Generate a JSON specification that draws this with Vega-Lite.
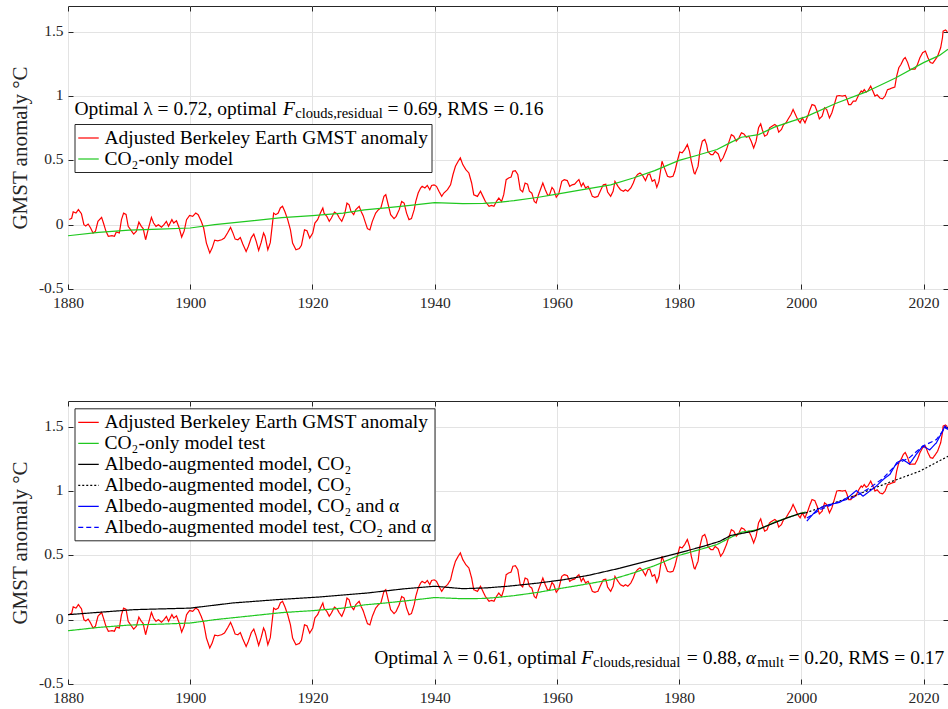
{
  "$schema": "https://vega.github.io/schema/vega-lite/v6.json",
  "background": "white",
  "padding": {"left": 8, "top": 5, "right": 0, "bottom": 0},
  "bounds": "flush",
  "spacing": 112,
  "resolve": {"scale": {"color": "independent", "strokeDash": "independent"}, "legend": {"color": "independent", "strokeDash": "independent"}},
  "config": {
    "view": {"stroke": "#262626", "strokeWidth": 1},
    "axis": {
      "domain": false, "grid": true, "gridColor": "#e3e3e3", "gridWidth": 1, "labelFlush": false,
      "tickColor": "#262626", "tickSize": -5, "tickWidth": 1,
      "labelFont": "Liberation Serif", "labelFontSize": 15.5, "labelColor": "#262626", "labelPadding": 10,
      "titleFont": "Liberation Serif", "titleFontSize": 21, "titleFontWeight": "normal", "titleColor": "#262626", "titlePadding": 8
    },
    "axisX": {"labelPadding": 11.5},
    "axisY": {"labelOffset": -1.5},
    "legend": {
      "orient": "none", "title": null, "symbolType": "stroke", "symbolSize": 420, "symbolStrokeWidth": 1.2,
      "labelFont": "Liberation Serif", "labelFontSize": 19.5, "labelColor": "black", "labelLimit": 600,
      "fillColor": "white", "strokeColor": "#262626", "padding": 3, "rowPadding": 0, "labelOffset": 5, "cornerRadius": 0
    },
    "text": {"font": "Liberation Serif", "color": "black"}
  },
  "datasets": {
    "red": [
      {"year":1880.2,"value":0.04},{"year":1880.6,"value":0.05},{"year":1880.85,"value":0.10},{"year":1881.3,"value":0.09},{"year":1881.7,"value":0.117},{"year":1882.2,"value":0.085},{"year":1882.6,"value":0.0},{"year":1882.9,"value":-0.01},{"year":1883.3,"value":0.005},{"year":1883.7,"value":-0.026},{"year":1884.1,"value":-0.065},{"year":1884.5,"value":-0.05},{"year":1884.9,"value":0.026},{"year":1885.5,"value":0.057},{"year":1885.8,"value":0.013},{"year":1886.2,"value":-0.05},{"year":1886.6,"value":-0.09},{"year":1887.2,"value":-0.085},{"year":1887.6,"value":-0.09},{"year":1887.9,"value":-0.057},{"year":1888.4,"value":-0.065},{"year":1888.75,"value":0.039},{"year":1889.1,"value":0.09},{"year":1889.5,"value":0.08},{"year":1889.85,"value":-0.013},{"year":1890.4,"value":-0.05},{"year":1890.75,"value":-0.073},{"year":1891.2,"value":-0.05},{"year":1891.6,"value":0.02},{"year":1892.0,"value":-0.013},{"year":1892.3,"value":-0.03},{"year":1892.7,"value":-0.117},{"year":1893.1,"value":-0.04},{"year":1893.65,"value":0.057},{"year":1894.0,"value":0.013},{"year":1894.4,"value":-0.013},{"year":1894.8,"value":0.0},{"year":1895.3,"value":-0.02},{"year":1895.7,"value":0.0},{"year":1896.1,"value":0.026},{"year":1896.45,"value":-0.013},{"year":1897.0,"value":0.039},{"year":1897.3,"value":0.013},{"year":1897.75,"value":0.03},{"year":1898.2,"value":-0.026},{"year":1898.6,"value":-0.096},{"year":1899.0,"value":-0.05},{"year":1899.4,"value":0.039},{"year":1899.9,"value":0.072},{"year":1900.4,"value":0.065},{"year":1900.9,"value":0.09},{"year":1901.3,"value":0.078},{"year":1901.8,"value":0.026},{"year":1902.2,"value":-0.026},{"year":1902.65,"value":-0.143},{"year":1903.2,"value":-0.22},{"year":1903.6,"value":-0.18},{"year":1904.0,"value":-0.12},{"year":1904.5,"value":-0.125},{"year":1905.15,"value":-0.117},{"year":1905.6,"value":-0.104},{"year":1906.1,"value":-0.065},{"year":1906.6,"value":-0.021},{"year":1906.95,"value":-0.06},{"year":1907.35,"value":-0.112},{"year":1907.8,"value":-0.117},{"year":1908.2,"value":-0.1},{"year":1908.6,"value":-0.15},{"year":1909.15,"value":-0.208},{"year":1909.5,"value":-0.17},{"year":1910.0,"value":-0.1},{"year":1910.4,"value":-0.073},{"year":1910.8,"value":-0.13},{"year":1911.2,"value":-0.2},{"year":1911.6,"value":-0.14},{"year":1912.0,"value":-0.065},{"year":1912.25,"value":-0.09},{"year":1912.7,"value":-0.195},{"year":1913.1,"value":-0.14},{"year":1913.65,"value":0.09},{"year":1914.0,"value":0.078},{"year":1914.4,"value":0.09},{"year":1914.75,"value":0.13},{"year":1915.1,"value":0.143},{"year":1915.5,"value":0.1},{"year":1915.95,"value":0.039},{"year":1916.4,"value":-0.04},{"year":1916.75,"value":-0.143},{"year":1917.3,"value":-0.195},{"year":1917.85,"value":-0.185},{"year":1918.2,"value":-0.16},{"year":1918.7,"value":-0.04},{"year":1919.1,"value":-0.047},{"year":1919.55,"value":-0.104},{"year":1920.05,"value":-0.065},{"year":1920.4,"value":0.013},{"year":1920.85,"value":0.039},{"year":1921.3,"value":0.09},{"year":1921.7,"value":0.13},{"year":1921.9,"value":0.09},{"year":1922.35,"value":0.065},{"year":1922.75,"value":0.026},{"year":1923.1,"value":0.052},{"year":1923.6,"value":0.098},{"year":1924.05,"value":0.083},{"year":1924.4,"value":0.052},{"year":1924.8,"value":0.026},{"year":1925.25,"value":0.078},{"year":1925.65,"value":0.168},{"year":1926.0,"value":0.155},{"year":1926.3,"value":0.104},{"year":1926.75,"value":0.078},{"year":1927.1,"value":0.117},{"year":1927.65,"value":0.143},{"year":1927.95,"value":0.104},{"year":1928.3,"value":0.07},{"year":1928.6,"value":0.026},{"year":1929.0,"value":-0.031},{"year":1929.4,"value":-0.04},{"year":1929.8,"value":0.026},{"year":1930.35,"value":0.09},{"year":1930.8,"value":0.117},{"year":1931.2,"value":0.13},{"year":1931.7,"value":0.22},{"year":1932.0,"value":0.233},{"year":1932.4,"value":0.155},{"year":1932.8,"value":0.078},{"year":1933.35,"value":0.047},{"year":1933.7,"value":0.065},{"year":1934.2,"value":0.117},{"year":1934.6,"value":0.18},{"year":1935.0,"value":0.168},{"year":1935.4,"value":0.09},{"year":1935.8,"value":0.039},{"year":1936.2,"value":0.047},{"year":1936.65,"value":0.117},{"year":1936.9,"value":0.18},{"year":1937.3,"value":0.246},{"year":1937.7,"value":0.285},{"year":1937.95,"value":0.298},{"year":1938.4,"value":0.285},{"year":1938.8,"value":0.305},{"year":1939.2,"value":0.272},{"year":1939.5,"value":0.305},{"year":1939.9,"value":0.31},{"year":1940.3,"value":0.298},{"year":1940.7,"value":0.26},{"year":1941.15,"value":0.22},{"year":1941.5,"value":0.246},{"year":1942.1,"value":0.272},{"year":1942.6,"value":0.31},{"year":1943.0,"value":0.39},{"year":1943.4,"value":0.454},{"year":1943.85,"value":0.493},{"year":1944.2,"value":0.519},{"year":1944.6,"value":0.467},{"year":1945.1,"value":0.428},{"year":1945.6,"value":0.402},{"year":1946.05,"value":0.324},{"year":1946.4,"value":0.233},{"year":1947.0,"value":0.22},{"year":1947.5,"value":0.26},{"year":1947.9,"value":0.22},{"year":1948.3,"value":0.18},{"year":1948.9,"value":0.143},{"year":1949.3,"value":0.15},{"year":1949.7,"value":0.143},{"year":1950.1,"value":0.18},{"year":1950.5,"value":0.207},{"year":1950.95,"value":0.18},{"year":1951.3,"value":0.233},{"year":1951.7,"value":0.35},{"year":1952.1,"value":0.363},{"year":1952.5,"value":0.37},{"year":1952.8,"value":0.415},{"year":1953.2,"value":0.42},{"year":1953.6,"value":0.39},{"year":1954.0,"value":0.272},{"year":1954.4,"value":0.255},{"year":1954.8,"value":0.324},{"year":1955.2,"value":0.315},{"year":1955.5,"value":0.26},{"year":1955.9,"value":0.245},{"year":1956.3,"value":0.18},{"year":1956.6,"value":0.168},{"year":1957.0,"value":0.233},{"year":1957.4,"value":0.285},{"year":1957.7,"value":0.324},{"year":1958.1,"value":0.272},{"year":1958.5,"value":0.228},{"year":1958.8,"value":0.233},{"year":1959.2,"value":0.29},{"year":1959.5,"value":0.272},{"year":1959.9,"value":0.213},{"year":1960.3,"value":0.24},{"year":1960.8,"value":0.337},{"year":1961.2,"value":0.35},{"year":1961.7,"value":0.343},{"year":1962.1,"value":0.298},{"year":1962.5,"value":0.31},{"year":1962.9,"value":0.315},{"year":1963.3,"value":0.337},{"year":1963.6,"value":0.35},{"year":1964.0,"value":0.298},{"year":1964.3,"value":0.324},{"year":1964.7,"value":0.285},{"year":1965.1,"value":0.298},{"year":1965.4,"value":0.272},{"year":1965.8,"value":0.22},{"year":1966.2,"value":0.213},{"year":1966.7,"value":0.22},{"year":1967.2,"value":0.272},{"year":1967.6,"value":0.31},{"year":1968.0,"value":0.315},{"year":1968.3,"value":0.254},{"year":1968.8,"value":0.22},{"year":1969.2,"value":0.26},{"year":1969.5,"value":0.337},{"year":1970.0,"value":0.298},{"year":1970.4,"value":0.272},{"year":1970.9,"value":0.26},{"year":1971.2,"value":0.272},{"year":1971.6,"value":0.26},{"year":1972.1,"value":0.285},{"year":1972.5,"value":0.324},{"year":1972.8,"value":0.363},{"year":1973.2,"value":0.39},{"year":1973.6,"value":0.402},{"year":1974.0,"value":0.385},{"year":1974.5,"value":0.343},{"year":1974.9,"value":0.39},{"year":1975.2,"value":0.394},{"year":1975.6,"value":0.337},{"year":1976.0,"value":0.35},{"year":1976.35,"value":0.29},{"year":1976.7,"value":0.337},{"year":1977.2,"value":0.493},{"year":1977.6,"value":0.44},{"year":1978.1,"value":0.376},{"year":1978.5,"value":0.37},{"year":1979.0,"value":0.376},{"year":1979.3,"value":0.415},{"year":1979.7,"value":0.493},{"year":1980.1,"value":0.565},{"year":1980.5,"value":0.558},{"year":1980.9,"value":0.584},{"year":1981.35,"value":0.623},{"year":1981.7,"value":0.57},{"year":1982.0,"value":0.493},{"year":1982.45,"value":0.402},{"year":1982.6,"value":0.395},{"year":1983.1,"value":0.455},{"year":1983.4,"value":0.57},{"year":1983.8,"value":0.649},{"year":1984.2,"value":0.662},{"year":1984.5,"value":0.623},{"year":1984.7,"value":0.57},{"year":1985.2,"value":0.545},{"year":1985.55,"value":0.545},{"year":1985.9,"value":0.57},{"year":1986.4,"value":0.55},{"year":1986.8,"value":0.493},{"year":1987.2,"value":0.52},{"year":1987.75,"value":0.584},{"year":1988.1,"value":0.636},{"year":1988.55,"value":0.70},{"year":1988.95,"value":0.688},{"year":1989.35,"value":0.649},{"year":1989.8,"value":0.675},{"year":1990.2,"value":0.714},{"year":1990.6,"value":0.705},{"year":1991.0,"value":0.68},{"year":1991.4,"value":0.688},{"year":1991.8,"value":0.649},{"year":1992.2,"value":0.597},{"year":1992.6,"value":0.649},{"year":1993.0,"value":0.753},{"year":1993.35,"value":0.784},{"year":1993.6,"value":0.74},{"year":1994.0,"value":0.688},{"year":1994.4,"value":0.70},{"year":1994.8,"value":0.753},{"year":1995.2,"value":0.766},{"year":1995.65,"value":0.779},{"year":1996.0,"value":0.766},{"year":1996.3,"value":0.72},{"year":1996.75,"value":0.74},{"year":1997.1,"value":0.779},{"year":1997.5,"value":0.792},{"year":1997.8,"value":0.818},{"year":1998.3,"value":0.857},{"year":1998.65,"value":0.896},{"year":1998.9,"value":0.87},{"year":1999.4,"value":0.818},{"year":1999.8,"value":0.792},{"year":2000.15,"value":0.83},{"year":2000.6,"value":0.792},{"year":2001.1,"value":0.85},{"year":2001.3,"value":0.88},{"year":2001.75,"value":0.934},{"year":2002.2,"value":0.926},{"year":2002.6,"value":0.88},{"year":2002.95,"value":0.822},{"year":2003.4,"value":0.843},{"year":2003.8,"value":0.908},{"year":2004.15,"value":0.895},{"year":2004.6,"value":0.83},{"year":2005.0,"value":0.87},{"year":2005.4,"value":0.934},{"year":2005.8,"value":1.0},{"year":2006.2,"value":1.004},{"year":2006.7,"value":1.0},{"year":2007.2,"value":1.004},{"year":2007.4,"value":0.985},{"year":2007.75,"value":0.934},{"year":2008.1,"value":0.934},{"year":2008.5,"value":0.96},{"year":2008.9,"value":0.96},{"year":2009.4,"value":1.01},{"year":2009.8,"value":1.04},{"year":2010.0,"value":1.03},{"year":2010.3,"value":1.05},{"year":2010.6,"value":1.03},{"year":2010.9,"value":1.04},{"year":2011.35,"value":1.077},{"year":2011.7,"value":1.04},{"year":2012.05,"value":1.0},{"year":2012.4,"value":1.01},{"year":2012.85,"value":0.985},{"year":2013.3,"value":0.978},{"year":2013.7,"value":1.0},{"year":2014.1,"value":1.05},{"year":2014.5,"value":1.056},{"year":2014.9,"value":1.064},{"year":2015.3,"value":1.07},{"year":2015.6,"value":1.155},{"year":2015.95,"value":1.22},{"year":2016.3,"value":1.245},{"year":2016.7,"value":1.285},{"year":2017.0,"value":1.3},{"year":2017.4,"value":1.26},{"year":2017.75,"value":1.207},{"year":2018.2,"value":1.21},{"year":2018.6,"value":1.21},{"year":2019.0,"value":1.245},{"year":2019.4,"value":1.297},{"year":2019.85,"value":1.337},{"year":2020.3,"value":1.35},{"year":2020.7,"value":1.3},{"year":2021.1,"value":1.26},{"year":2021.5,"value":1.255},{"year":2021.95,"value":1.285},{"year":2022.3,"value":1.31},{"year":2022.8,"value":1.375},{"year":2023.1,"value":1.455},{"year":2023.2,"value":1.505},{"year":2023.6,"value":1.513},{"year":2023.9,"value":1.5}
    ],
    "green": [
      {"year":1880,"value":-0.086},{"year":1885,"value":-0.06},{"year":1890,"value":-0.042},{"year":1895,"value":-0.035},{"year":1900,"value":-0.026},{"year":1904,"value":0.0},{"year":1910,"value":0.03},{"year":1915,"value":0.055},{"year":1920,"value":0.07},{"year":1925,"value":0.09},{"year":1928.5,"value":0.115},{"year":1932,"value":0.13},{"year":1936,"value":0.15},{"year":1940,"value":0.172},{"year":1944.6,"value":0.163},{"year":1948,"value":0.165},{"year":1950,"value":0.172},{"year":1953,"value":0.187},{"year":1957,"value":0.213},{"year":1960,"value":0.238},{"year":1964,"value":0.27},{"year":1968.8,"value":0.31},{"year":1972.5,"value":0.363},{"year":1976,"value":0.42},{"year":1980,"value":0.5},{"year":1983,"value":0.54},{"year":1986.2,"value":0.584},{"year":1988.3,"value":0.636},{"year":1990.2,"value":0.68},{"year":1993,"value":0.7},{"year":1995.6,"value":0.758},{"year":1998.5,"value":0.805},{"year":2000.7,"value":0.838},{"year":2005.6,"value":0.942},{"year":2010.5,"value":1.03},{"year":2015.4,"value":1.14},{"year":2020,"value":1.26},{"year":2022.6,"value":1.316},{"year":2024,"value":1.363}
    ],
    "black": [
      {"year":1880,"value":0.039},{"year":1890.8,"value":0.078},{"year":1900,"value":0.09},{"year":1907,"value":0.13},{"year":1914,"value":0.155},{"year":1921,"value":0.176},{"year":1928.9,"value":0.207},{"year":1935,"value":0.24},{"year":1940,"value":0.26},{"year":1944.6,"value":0.241},{"year":1948.4,"value":0.247},{"year":1952,"value":0.26},{"year":1957,"value":0.285},{"year":1961,"value":0.31},{"year":1965.2,"value":0.345},{"year":1970.3,"value":0.40},{"year":1972.5,"value":0.428},{"year":1975.7,"value":0.467},{"year":1980,"value":0.519},{"year":1984,"value":0.571},{"year":1986.7,"value":0.61},{"year":1988.4,"value":0.654},{"year":1992.2,"value":0.688},{"year":1994.9,"value":0.74},{"year":1997.7,"value":0.792},{"year":1999.8,"value":0.826},{"year":2000.7,"value":0.83}
    ],
    "blackExt": [
      {"year":2000.7,"value":0.83},{"year":2008.5,"value":0.96},{"year":2013.9,"value":1.059},{"year":2019.4,"value":1.155},{"year":2024,"value":1.27}
    ],
    "blue": [
      {"year":2000.9,"value":0.766},{"year":2001.7,"value":0.81},{"year":2002.5,"value":0.85},{"year":2003.6,"value":0.882},{"year":2004.7,"value":0.895},{"year":2006.3,"value":0.913},{"year":2007.9,"value":0.96},{"year":2009.0,"value":1.004},{"year":2010.1,"value":0.96},{"year":2011.2,"value":1.0},{"year":2012.3,"value":1.04},{"year":2013.4,"value":1.09},{"year":2014.5,"value":1.13},{"year":2015.6,"value":1.22},{"year":2016.6,"value":1.245},{"year":2017.7,"value":1.21},{"year":2018.8,"value":1.285},{"year":2019.9,"value":1.35},{"year":2021.0,"value":1.32},{"year":2022.1,"value":1.375},{"year":2023.0,"value":1.455},{"year":2023.5,"value":1.505},{"year":2024,"value":1.48}
    ],
    "blueTest": [
      {"year":2000.9,"value":0.79},{"year":2003.1,"value":0.856},{"year":2005.8,"value":0.91},{"year":2008.5,"value":0.95},{"year":2011.2,"value":1.025},{"year":2013.4,"value":1.1},{"year":2015.6,"value":1.21},{"year":2017.7,"value":1.26},{"year":2019.9,"value":1.35},{"year":2022.1,"value":1.4},{"year":2023.5,"value":1.49},{"year":2024,"value":1.48}
    ]
  },
  "vconcat": [
    {
      "width": 880, "height": 283,
      "resolve": {"axis": {"x": "independent", "y": "independent"}},
      "layer": [
        {
          "data": {"name": "red"},
          "mark": {"type": "line", "strokeWidth": 1.2, "clip": true},
          "encoding": {
            "x": {"field": "year", "type": "quantitative", "scale": {"domain": [1880, 2024], "nice": false, "zero": false}, "axis": {"orient": "bottom", "values": [1880,1900,1920,1940,1960,1980,2000,2020], "format": "d", "title": null}},
            "y": {"field": "value", "type": "quantitative", "scale": {"domain": [-0.5, 1.7], "nice": false, "zero": false}, "axis": {"orient": "left", "values": [-0.5,0,0.5,1,1.5], "labelExpr": "datum.value < 0 ? '-' + (-datum.value) : '' + datum.value", "title": "GMST anomaly °C"}},
            "color": {"datum": "Adjusted Berkeley Earth GMST anomaly", "scale": {"domain": ["Adjusted Berkeley Earth GMST anomaly", "CO₂-only model"], "range": ["#ff0000", "#20c820"]}, "legend": {"legendX": 6.5, "legendY": 118}}
          }
        },
        {
          "data": {"name": "green"},
          "mark": {"type": "line", "strokeWidth": 1.2, "clip": true},
          "encoding": {
            "x": {"field": "year", "type": "quantitative", "axis": {"orient": "top", "labels": false, "grid": false, "values": [1880,1900,1920,1940,1960,1980,2000,2020], "title": null}},
            "y": {"field": "value", "type": "quantitative", "axis": {"orient": "right", "labels": false, "grid": false, "values": [-0.5,0,0.5,1,1.5], "title": null}},
            "color": {"datum": "CO₂-only model"}
          }
        },
        {
          "data": {"values": [{"year": 1881.06, "value": 0.851, "text": "Optimal λ = 0.72, optimal"}, {"year": 1932.3, "value": 0.851, "text": "= 0.69, RMS = 0.16"}]},
          "mark": {"type": "text", "align": "left", "baseline": "alphabetic", "fontSize": 19.5},
          "encoding": {"x": {"field": "year", "type": "quantitative", "axis": null}, "y": {"field": "value", "type": "quantitative", "axis": null}, "text": {"field": "text"}}
        },
        {
          "data": {"values": [{"year": 1915.2, "value": 0.851, "text": "F"}]},
          "mark": {"type": "text", "align": "left", "baseline": "alphabetic", "fontSize": 19.5, "fontStyle": "italic"},
          "encoding": {"x": {"field": "year", "type": "quantitative", "axis": null}, "y": {"field": "value", "type": "quantitative", "axis": null}, "text": {"field": "text"}}
        },
        {
          "data": {"values": [{"year": 1917.2, "value": 0.828, "text": "clouds,residual"}]},
          "mark": {"type": "text", "align": "left", "baseline": "alphabetic", "fontSize": 14.5},
          "encoding": {"x": {"field": "year", "type": "quantitative", "axis": null}, "y": {"field": "value", "type": "quantitative", "axis": null}, "text": {"field": "text"}}
        }
      ]
    },
    {
      "width": 880, "height": 283,
      "resolve": {"axis": {"x": "independent", "y": "independent"}},
      "layer": [
        {
          "data": {"name": "red"},
          "mark": {"type": "line", "strokeWidth": 1.2, "clip": true},
          "encoding": {
            "x": {"field": "year", "type": "quantitative", "scale": {"domain": [1880, 2024], "nice": false, "zero": false}, "axis": {"orient": "bottom", "values": [1880,1900,1920,1940,1960,1980,2000,2020], "format": "d", "title": null}},
            "y": {"field": "value", "type": "quantitative", "scale": {"domain": [-0.5, 1.7], "nice": false, "zero": false}, "axis": {"orient": "left", "values": [-0.5,0,0.5,1,1.5], "labelExpr": "datum.value < 0 ? '-' + (-datum.value) : '' + datum.value", "title": "GMST anomaly °C"}},
            "color": {"datum": "Adjusted Berkeley Earth GMST anomaly", "scale": {"domain": ["Adjusted Berkeley Earth GMST anomaly", "CO₂-only model test", "Albedo-augmented model, CO₂", "Albedo-augmented model, CO₂ (extrapolated)", "Albedo-augmented model, CO₂ and α", "Albedo-augmented model test, CO₂ and α"], "range": ["#ff0000", "#20c820", "#000000", "#000000", "#0000ff", "#0000ff"]}, "legend": {"legendX": 6.5, "legendY": 7.3, "labelExpr": "replace(datum.label, ' (extrapolated)', '')"}},
            "strokeDash": {"datum": "Adjusted Berkeley Earth GMST anomaly", "scale": {"domain": ["Adjusted Berkeley Earth GMST anomaly", "CO₂-only model test", "Albedo-augmented model, CO₂", "Albedo-augmented model, CO₂ (extrapolated)", "Albedo-augmented model, CO₂ and α", "Albedo-augmented model test, CO₂ and α"], "range": [[1,0],[1,0],[1,0],[2,2],[1,0],[5,3]]}, "legend": {"legendX": 6.5, "legendY": 7.3, "labelExpr": "replace(datum.label, ' (extrapolated)', '')"}}
          }
        },
        {
          "data": {"name": "green"},
          "transform": [{"filter": "datum.year <= 2000.7"}],
          "mark": {"type": "line", "strokeWidth": 1.2, "clip": true},
          "encoding": {
            "x": {"field": "year", "type": "quantitative", "axis": {"orient": "top", "labels": false, "grid": false, "values": [1880,1900,1920,1940,1960,1980,2000,2020], "title": null}},
            "y": {"field": "value", "type": "quantitative", "axis": {"orient": "right", "labels": false, "grid": false, "values": [-0.5,0,0.5,1,1.5], "title": null}},
            "color": {"datum": "CO₂-only model test"},
            "strokeDash": {"datum": "CO₂-only model test"}
          }
        },
        {
          "data": {"name": "black"},
          "mark": {"type": "line", "strokeWidth": 1.2, "clip": true},
          "encoding": {"x": {"field": "year", "type": "quantitative", "axis": null}, "y": {"field": "value", "type": "quantitative", "axis": null}, "color": {"datum": "Albedo-augmented model, CO₂"}, "strokeDash": {"datum": "Albedo-augmented model, CO₂"}}
        },
        {
          "data": {"name": "blackExt"},
          "mark": {"type": "line", "strokeWidth": 1.2, "clip": true},
          "encoding": {"x": {"field": "year", "type": "quantitative", "axis": null}, "y": {"field": "value", "type": "quantitative", "axis": null}, "color": {"datum": "Albedo-augmented model, CO₂ (extrapolated)"}, "strokeDash": {"datum": "Albedo-augmented model, CO₂ (extrapolated)"}}
        },
        {
          "data": {"name": "blue"},
          "mark": {"type": "line", "strokeWidth": 1.2, "clip": true},
          "encoding": {"x": {"field": "year", "type": "quantitative", "axis": null}, "y": {"field": "value", "type": "quantitative", "axis": null}, "color": {"datum": "Albedo-augmented model, CO₂ and α"}, "strokeDash": {"datum": "Albedo-augmented model, CO₂ and α"}}
        },
        {
          "data": {"name": "blueTest"},
          "mark": {"type": "line", "strokeWidth": 1.2, "clip": true},
          "encoding": {"x": {"field": "year", "type": "quantitative", "axis": null}, "y": {"field": "value", "type": "quantitative", "axis": null}, "color": {"datum": "Albedo-augmented model test, CO₂ and α"}, "strokeDash": {"datum": "Albedo-augmented model test, CO₂ and α"}}
        },
        {
          "data": {"values": [{"year": 1930.12, "value": -0.344, "text": "Optimal λ = 0.61, optimal"}, {"year": 1981.26, "value": -0.344, "text": "= 0.88,"}, {"year": 1997.9, "value": -0.344, "text": "= 0.20, RMS = 0.17"}]},
          "mark": {"type": "text", "align": "left", "baseline": "alphabetic", "fontSize": 19.5, "clip": true},
          "encoding": {"x": {"field": "year", "type": "quantitative", "axis": null}, "y": {"field": "value", "type": "quantitative", "axis": null}, "text": {"field": "text"}}
        },
        {
          "data": {"values": [{"year": 1963.97, "value": -0.344, "text": "F"}, {"year": 1990.9, "value": -0.344, "text": "α"}]},
          "mark": {"type": "text", "align": "left", "baseline": "alphabetic", "fontSize": 19.5, "fontStyle": "italic", "clip": true},
          "encoding": {"x": {"field": "year", "type": "quantitative", "axis": null}, "y": {"field": "value", "type": "quantitative", "axis": null}, "text": {"field": "text"}}
        },
        {
          "data": {"values": [{"year": 1965.9, "value": -0.368, "text": "clouds,residual"}, {"year": 1992.8, "value": -0.368, "text": "mult"}]},
          "mark": {"type": "text", "align": "left", "baseline": "alphabetic", "fontSize": 14.5, "clip": true},
          "encoding": {"x": {"field": "year", "type": "quantitative", "axis": null}, "y": {"field": "value", "type": "quantitative", "axis": null}, "text": {"field": "text"}}
        }
      ]
    }
  ]
}
